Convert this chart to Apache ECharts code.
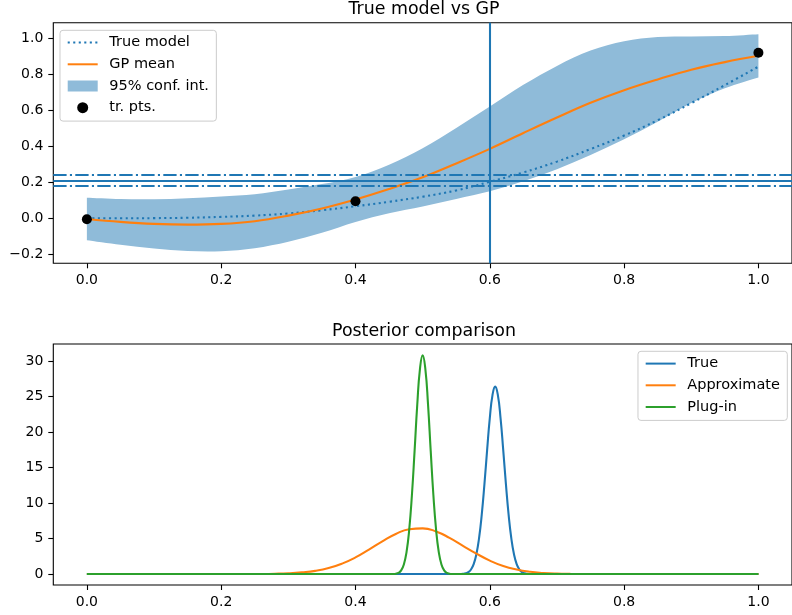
<!DOCTYPE html>
<html>
<head>
<meta charset="utf-8">
<script src="https://cdn.jsdelivr.net/npm/echarts@6/dist/echarts.min.js"></script>
<style>
html,body{margin:0;padding:0;background:#fff;}
#chart{width:792px;height:615px;}
</style>
</head>
<body>
<div id="chart"></div>
<script>
// ---------- data ----------
const xTicks = [0, 0.2, 0.4, 0.6, 0.8, 1.0];
const topYTicks = [-0.2, 0, 0.2, 0.4, 0.6, 0.8, 1.0];
const bottomYTicks = [0, 5, 10, 15, 20, 25, 30];

const topX = [0, 0.05, 0.1, 0.15, 0.2, 0.25, 0.3, 0.35, 0.4, 0.45, 0.5, 0.55, 0.6, 0.65, 0.7, 0.75, 0.8, 0.85, 0.9, 0.95, 1.0];
const trueModel = [0, 0, 0.001, 0.003, 0.008, 0.015, 0.027, 0.045, 0.067, 0.092, 0.12, 0.155, 0.203, 0.255, 0.315, 0.385, 0.46, 0.545, 0.64, 0.74, 0.843];
const gpMean = [-0.004, -0.02, -0.031, -0.035, -0.031, -0.016, 0.015, 0.055, 0.105, 0.163, 0.228, 0.305, 0.386, 0.474, 0.56, 0.642, 0.712, 0.772, 0.826, 0.868, 0.903];
const ciUpper = [0.114, 0.107, 0.106, 0.112, 0.121, 0.134, 0.16, 0.19, 0.23, 0.298, 0.39, 0.502, 0.621, 0.742, 0.847, 0.932, 0.984, 1.007, 1.011, 1.013, 1.023];
const ciLower = [-0.122, -0.147, -0.168, -0.182, -0.183, -0.166, -0.13, -0.08, -0.02, 0.028, 0.066, 0.108, 0.151, 0.206, 0.273, 0.352, 0.44, 0.537, 0.641, 0.723, 0.783];
const trainX = [0, 0.4, 1.0];
const trainY = [-0.005, 0.095, 0.92];
const refLineY = 0.211;
const refBandY = [0.181, 0.242];
const refLineX = 0.6;

const trueX = [0, 0.3, 0.5, 0.54, 0.548, 0.552, 0.556, 0.56, 0.564, 0.568, 0.572, 0.576, 0.58, 0.584, 0.588, 0.592, 0.596, 0.6, 0.604, 0.608, 0.612, 0.616, 0.62, 0.624, 0.628, 0.632, 0.636, 0.64, 0.644, 0.648, 0.652, 0.656, 0.66, 0.664, 0.668, 0.676, 0.7, 0.85, 1.0];
const trueY = [0, 0, 0, 0, 0, 0.003, 0.011, 0.036, 0.102, 0.27, 0.64, 1.40, 2.78, 5.06, 8.37, 12.66, 17.46, 21.97, 25.2, 26.4, 25.2, 21.97, 17.46, 12.66, 8.37, 5.06, 2.78, 1.40, 0.64, 0.27, 0.102, 0.036, 0.011, 0.003, 0, 0, 0, 0, 0];

const approxX = [0, 0.1, 0.2, 0.22, 0.24, 0.26, 0.28, 0.3, 0.32, 0.34, 0.36, 0.38, 0.4, 0.42, 0.44, 0.46, 0.48, 0.5, 0.52, 0.54, 0.56, 0.58, 0.6, 0.62, 0.64, 0.66, 0.68, 0.7, 0.72, 0.74, 0.76, 0.78, 0.8, 0.9, 1.0];
const approxY = [0, 0, 0, 0.001, 0.004, 0.013, 0.045, 0.11, 0.24, 0.45, 0.84, 1.47, 2.34, 3.44, 4.61, 5.65, 6.31, 6.44, 6.0, 5.1, 3.98, 2.88, 1.9, 1.13, 0.63, 0.32, 0.16, 0.07, 0.03, 0.01, 0.003, 0, 0, 0, 0];

const plugX = [0, 0.2, 0.4, 0.44, 0.448, 0.452, 0.456, 0.46, 0.464, 0.468, 0.472, 0.476, 0.48, 0.484, 0.488, 0.492, 0.496, 0.5, 0.504, 0.508, 0.512, 0.516, 0.52, 0.524, 0.528, 0.532, 0.536, 0.54, 0.544, 0.548, 0.552, 0.56, 0.6, 0.8, 1.0];
const plugY = [0, 0, 0, 0, 0, 0.003, 0.014, 0.052, 0.175, 0.52, 1.35, 3.10, 6.25, 11.1, 17.35, 23.9, 28.9, 30.8, 28.9, 23.9, 17.35, 11.1, 6.25, 3.10, 1.35, 0.52, 0.175, 0.052, 0.014, 0.003, 0, 0, 0, 0, 0];

// ---------- helpers ----------
const zip = (xs, ys) => xs.map((x, i) => [x, ys[i]]);
const FONT = 'DejaVu Sans';
const BLUE = '#1f77b4', ORANGE = '#ff7f0e', GREEN = '#2ca02c';
const BAND = '#8fbbd9'; // tab:blue at alpha 0.5 over white
const LW = 2.08;
const fmt1 = v => (Math.abs(v) < 1e-9 ? 0 : v).toFixed(1).replace('-', '\u2212');

// smooth (Catmull-Rom) path segments through pixel points, for drawing only
function curveThrough(pts, startCmd) {
  let d = startCmd + pts[0][0] + ',' + pts[0][1];
  for (let i = 0; i < pts.length - 1; i++) {
    const p0 = pts[Math.max(0, i - 1)], p1 = pts[i], p2 = pts[i + 1], p3 = pts[Math.min(pts.length - 1, i + 2)];
    const c1 = [p1[0] + (p2[0] - p0[0]) / 6, p1[1] + (p2[1] - p0[1]) / 6];
    const c2 = [p2[0] - (p3[0] - p1[0]) / 6, p2[1] - (p3[1] - p1[1]) / 6];
    d += ' C' + c1[0] + ',' + c1[1] + ' ' + c2[0] + ',' + c2[1] + ' ' + p2[0] + ',' + p2[1];
  }
  return d;
}

function xAxisCfg(gi) {
  return {
    type: 'value', gridIndex: gi, min: -0.05, max: 1.05,
    axisLine: { show: false, onZero: false },
    splitLine: { show: false },
    axisTick: { show: true, length: 5, inside: false, customValues: xTicks, lineStyle: { color: '#000', width: 1.1 } },
    axisLabel: { customValues: xTicks, formatter: fmt1, margin: 10, fontFamily: FONT, fontSize: 14, color: '#000' }
  };
}
function yAxisCfg(gi, min, max, ticks, f) {
  return {
    type: 'value', gridIndex: gi, min: min, max: max,
    axisLine: { show: false, onZero: false },
    splitLine: { show: false },
    axisTick: { show: true, length: 5, inside: false, customValues: ticks, lineStyle: { color: '#000', width: 1.1 } },
    axisLabel: { customValues: ticks, formatter: f, margin: 10, fontFamily: FONT, fontSize: 14, color: '#000' }
  };
}
const legendBase = {
  orient: 'vertical', itemWidth: 30, itemHeight: 11, itemGap: 5.7,
  padding: [4.3, 7.4, 5.4, 6.7],
  borderColor: '#cccccc', borderWidth: 1, borderRadius: 3,
  backgroundColor: 'rgba(255,255,255,0.8)',
  selectedMode: false,
  textStyle: { fontFamily: FONT, fontSize: 14.5, color: '#000', lineHeight: 16, padding: [0, 0, 0, 6.6] }
};
const lineItem = name => ({ name: name, itemStyle: { opacity: 0 } });
const mlBase = { silent: true, symbol: ['none', 'none'], label: { show: false }, emphasis: { disabled: true }, animation: false };

const option = {
  animation: false,
  backgroundColor: '#fff',
  grid: [
    { left: 53.3, top: 22.7, width: 741.4, height: 240.6, show: true, borderColor: '#000', borderWidth: 1.1, backgroundColor: 'transparent', z: 5 },
    { left: 53.3, top: 344, width: 741.4, height: 241, show: true, borderColor: '#000', borderWidth: 1.1, backgroundColor: 'transparent', z: 5 }
  ],
  xAxis: [xAxisCfg(0), xAxisCfg(1)],
  yAxis: [
    yAxisCfg(0, -0.25, 1.087, topYTicks, fmt1),
    yAxisCfg(1, -1.54, 32.4, bottomYTicks, v => String(Math.round(v)))
  ],
  legend: [
    Object.assign({}, legendBase, {
      left: 60, top: 30.3,
      data: [
        lineItem('True model'), lineItem('GP mean'),
        { name: '95% conf. int.', icon: 'rect', itemStyle: { color: BAND, borderWidth: 0, opacity: 1 } },
        { name: 'tr. pts.', icon: 'circle', itemStyle: { color: '#000', opacity: 1 } }
      ]
    }),
    Object.assign({}, legendBase, {
      right: 4.7, top: 351.3,
      data: [lineItem('True'), lineItem('Approximate'), lineItem('Plug-in')]
    })
  ],
  graphic: [
    { type: 'text', x: 424, y: 9.8, silent: true, style: { text: 'True model vs GP', fontFamily: FONT, fontSize: 17.4, fill: '#000', align: 'center', verticalAlign: 'middle' } },
    { type: 'text', x: 424, y: 331.2, silent: true, style: { text: 'Posterior comparison', fontFamily: FONT, fontSize: 17.4, fill: '#000', align: 'center', verticalAlign: 'middle' } }
  ],
  series: [
    {
      name: '95% conf. int.', type: 'custom', xAxisIndex: 0, yAxisIndex: 0, z: 1,
      data: topX.map((x, i) => [x, ciLower[i], ciUpper[i]]),
      encode: { x: 0, y: [1, 2] },
      itemStyle: { color: BAND },
      renderItem: function (params, api) {
        if (params.dataIndex !== 0) return null;
        const up = topX.map((x, i) => api.coord([x, ciUpper[i]]));
        const lo = topX.map((x, i) => api.coord([x, ciLower[i]])).reverse();
        const d = curveThrough(up, 'M') + ' ' + curveThrough(lo, 'L') + ' Z';
        return { type: 'path', shape: { pathData: d }, style: { fill: BAND, stroke: null } };
      }
    },
    {
      name: 'True model', type: 'line', xAxisIndex: 0, yAxisIndex: 0, z: 3,
      data: zip(topX, trueModel), smooth: 0.4, symbol: 'none', showSymbol: false,
      itemStyle: { color: BLUE },
      lineStyle: { color: BLUE, width: LW, type: [2.08, 3.44], cap: 'butt' }
    },
    {
      name: 'GP mean', type: 'line', xAxisIndex: 0, yAxisIndex: 0, z: 3,
      data: zip(topX, gpMean), smooth: 0.4, symbol: 'none', showSymbol: false,
      itemStyle: { color: ORANGE },
      lineStyle: { color: ORANGE, width: LW }
    },
    {
      name: '_refSolid', type: 'line', xAxisIndex: 0, yAxisIndex: 0, z: 2, data: [],
      markLine: Object.assign({}, mlBase, {
        lineStyle: { color: BLUE, width: LW, type: 'solid' },
        data: [{ yAxis: refLineY }, { xAxis: refLineX }]
      })
    },
    {
      name: '_refDash', type: 'line', xAxisIndex: 0, yAxisIndex: 0, z: 2, data: [],
      markLine: Object.assign({}, mlBase, {
        lineStyle: { color: BLUE, width: LW, type: [13.3, 3.3, 2.1, 3.3], cap: 'butt' },
        data: refBandY.map(v => ({ yAxis: v }))
      })
    },
    {
      name: 'tr. pts.', type: 'scatter', xAxisIndex: 0, yAxisIndex: 0, z: 4,
      data: zip(trainX, trainY), symbol: 'circle', symbolSize: 10,
      itemStyle: { color: '#000', opacity: 1 }
    },
    {
      name: 'True', type: 'line', xAxisIndex: 1, yAxisIndex: 1, z: 2,
      data: zip(trueX, trueY), smooth: 0.5, symbol: 'none', showSymbol: false,
      itemStyle: { color: BLUE }, lineStyle: { color: BLUE, width: LW }
    },
    {
      name: 'Approximate', type: 'line', xAxisIndex: 1, yAxisIndex: 1, z: 2,
      data: zip(approxX, approxY), smooth: 0.5, symbol: 'none', showSymbol: false,
      itemStyle: { color: ORANGE }, lineStyle: { color: ORANGE, width: LW }
    },
    {
      name: 'Plug-in', type: 'line', xAxisIndex: 1, yAxisIndex: 1, z: 2,
      data: zip(plugX, plugY), smooth: 0.5, symbol: 'none', showSymbol: false,
      itemStyle: { color: GREEN }, lineStyle: { color: GREEN, width: LW }
    }
  ]
};

const chart = echarts.init(document.getElementById('chart'), null, { renderer: 'canvas' });
chart.setOption(option);
</script>
</body>
</html>
